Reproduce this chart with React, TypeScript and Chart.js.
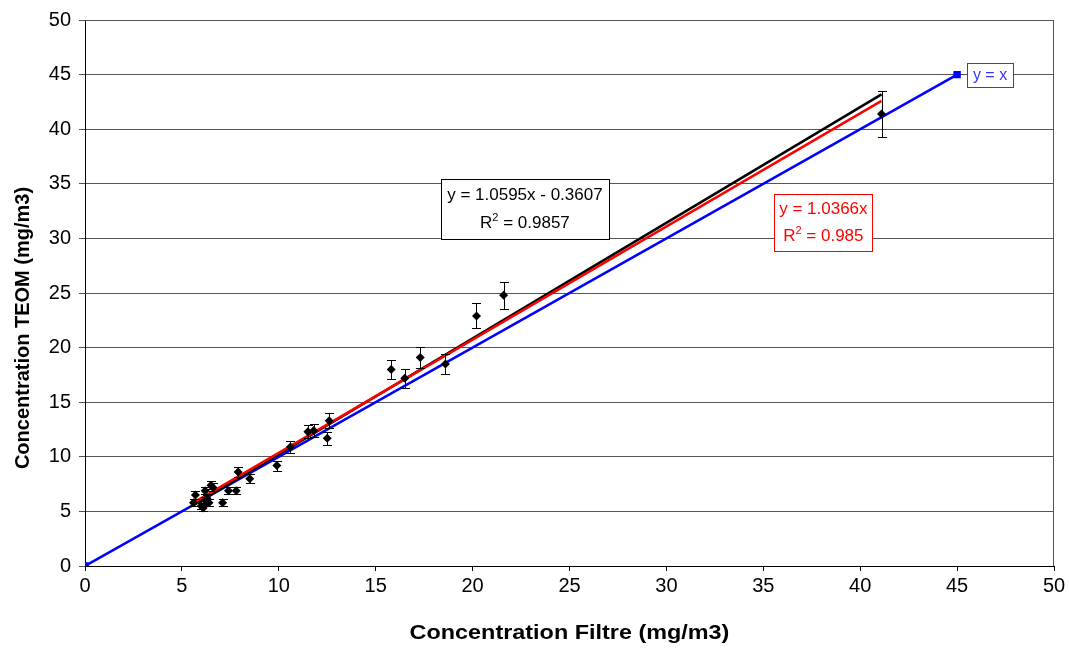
import React, { useEffect, useRef } from "react";
import { Chart, registerables } from "chart.js";

Chart.register(...registerables);

// Measured data: Concentration Filtre (x) vs Concentration TEOM (y), with error bars
const filtreX = [5.6, 5.7, 6.0, 6.1, 6.2, 6.3, 6.2, 6.4, 6.5, 6.6, 7.1, 7.4, 7.8, 7.9, 8.5, 9.9, 10.6, 11.5, 11.8, 12.5, 12.6, 15.8, 16.5, 17.3, 18.6, 20.2, 21.6, 41.1];
const teomY = [5.8, 6.5, 5.5, 5.3, 6.0, 6.2, 6.9, 5.8, 7.4, 7.2, 5.8, 6.9, 6.9, 8.6, 8.0, 9.2, 10.9, 12.3, 12.4, 11.7, 13.3, 18.0, 17.2, 19.1, 18.5, 22.9, 24.8, 41.4];
const teomErr = [0.3, 0.33, 0.28, 0.27, 0.3, 0.31, 0.35, 0.29, 0.37, 0.36, 0.29, 0.35, 0.35, 0.43, 0.4, 0.46, 0.55, 0.62, 0.62, 0.59, 0.67, 0.9, 0.86, 0.95, 0.92, 1.14, 1.24, 2.07];

// Trend lines (endpoints)
const linFitX = [5.6, 41.1];
const linFitY = [5.57, 43.19];
const zeroFitX = [5.6, 41.1];
const zeroFitY = [5.8, 42.6];
// Identity line y = x
const identityX = [0, 45];
const identityY = [0, 45];

// Axis ticks
const xTicks = [0, 5, 10, 15, 20, 25, 30, 35, 40, 45, 50];
const yTicks = [0, 5, 10, 15, 20, 25, 30, 35, 40, 45, 50];

// Labels
const linFitLabel = ["y = 1.0595x - 0.3607", "0.9857"];
const zeroFitLabel = ["y = 1.0366x", "0.985"];
const identityLabel = "y = x";
const xTitle = "Concentration Filtre (mg/m3)";
const yTitle = "Concentration TEOM (mg/m3)";

const FONT = "'Liberation Sans', Arial, sans-serif";

function toPts(xs: number[], ys: number[]) {
  return xs.map((x, i) => ({ x, y: ys[i] }));
}

function drawR2(ctx: CanvasRenderingContext2D, value: string, cx: number, cy: number, size: number, color: string) {
  const big = `${size}px ${FONT}`;
  const small = `${Math.round(size * 0.62)}px ${FONT}`;
  ctx.font = big;
  const wR = ctx.measureText("R").width;
  const rest = " = " + value;
  const wRest = ctx.measureText(rest).width;
  ctx.font = small;
  const w2 = ctx.measureText("2").width;
  const total = wR + w2 + wRest;
  let x = cx - total / 2;
  ctx.fillStyle = color;
  ctx.textAlign = "left";
  ctx.textBaseline = "middle";
  ctx.font = big;
  ctx.fillText("R", x, cy);
  x += wR;
  ctx.font = small;
  ctx.fillText("2", x, cy - size * 0.33);
  x += w2;
  ctx.font = big;
  ctx.fillText(rest, x, cy);
}

const extrasPlugin = {
  id: "extras",
  beforeDatasetsDraw(chart: any) {
    const { ctx, chartArea } = chart;
    ctx.save();
    ctx.strokeStyle = "#555";
    ctx.lineWidth = 1;
    ctx.beginPath();
    ctx.moveTo(chartArea.left, chartArea.top + 0.5);
    ctx.lineTo(chartArea.right - 0.5, chartArea.top + 0.5);
    ctx.lineTo(chartArea.right - 0.5, chartArea.bottom);
    ctx.stroke();
    ctx.restore();
  },
  afterDatasetsDraw(chart: any) {
    const { ctx, chartArea } = chart;
    const xs = chart.scales.x;
    const ys = chart.scales.y;
    ctx.save();
    // error bars
    ctx.strokeStyle = "#000";
    ctx.lineWidth = 1;
    filtreX.forEach((xv, i) => {
      const px = Math.round(xs.getPixelForValue(xv)) + 0.5;
      const pTop = Math.round(ys.getPixelForValue(teomY[i] + teomErr[i])) + 0.5;
      const pBot = Math.round(ys.getPixelForValue(teomY[i] - teomErr[i])) + 0.5;
      ctx.beginPath();
      ctx.moveTo(px, pTop);
      ctx.lineTo(px, pBot);
      ctx.moveTo(px - 4.5, pTop);
      ctx.lineTo(px + 4.5, pTop);
      ctx.moveTo(px - 4.5, pBot);
      ctx.lineTo(px + 4.5, pBot);
      ctx.stroke();
    });

    // label boxes
    const box = (cxv: number, cyv: number, w: number, h: number, color: string) => {
      const cx = xs.getPixelForValue(cxv);
      const cy = ys.getPixelForValue(cyv);
      const l = Math.round(cx - w / 2) + 0.5;
      const t = Math.round(cy - h / 2) + 0.5;
      ctx.fillStyle = "#fff";
      ctx.fillRect(l, t, w, h);
      ctx.strokeStyle = color;
      ctx.lineWidth = 1;
      ctx.strokeRect(l, t, w, h);
      return { cx, cy, t };
    };

    // linear fit label (black)
    const b1 = box(22.7, 32.7, 168, 60, "#000");
    ctx.fillStyle = "#000";
    ctx.font = `17px ${FONT}`;
    ctx.textAlign = "center";
    ctx.textBaseline = "middle";
    ctx.fillText(linFitLabel[0], b1.cx, b1.t + 16);
    drawR2(ctx, linFitLabel[1], b1.cx, b1.t + 44, 17, "#000");

    // zero-intercept fit label (red)
    const b2 = box(38.1, 31.5, 98, 57, "#ff0000");
    ctx.fillStyle = "#ff0000";
    ctx.font = `17px ${FONT}`;
    ctx.textAlign = "center";
    ctx.textBaseline = "middle";
    ctx.fillText(zeroFitLabel[0], b2.cx, b2.t + 15);
    drawR2(ctx, zeroFitLabel[1], b2.cx, b2.t + 42, 17, "#ff0000");

    // identity label (blue)
    const b3 = box(46.7, 45.0, 46, 24, "#3333ff");
    ctx.fillStyle = "#3333ff";
    ctx.font = `16px ${FONT}`;
    ctx.textAlign = "center";
    ctx.textBaseline = "middle";
    ctx.fillText(identityLabel, b3.cx, b3.t + 12);

    // y axis title
    ctx.save();
    ctx.translate(23, 328);
    ctx.rotate(-Math.PI / 2);
    ctx.fillStyle = "#000";
    ctx.font = `bold 20px ${FONT}`;
    ctx.textAlign = "center";
    ctx.textBaseline = "middle";
    ctx.fillText(yTitle, 0, 0);
    ctx.restore();

    // x axis title (slightly widened as in the original)
    ctx.save();
    ctx.translate((chartArea.left + chartArea.right) / 2, 633);
    ctx.scale(1.17, 1);
    ctx.fillStyle = "#000";
    ctx.font = `bold 20px ${FONT}`;
    ctx.textAlign = "center";
    ctx.textBaseline = "middle";
    ctx.fillText(xTitle, 0, 0);
    ctx.restore();

    ctx.restore();
  },
};

export default function App() {
  const ref = useRef<HTMLCanvasElement | null>(null);

  useEffect(() => {
    document.body.style.margin = "0";
    if (!ref.current) return;
    const chart = new Chart(ref.current, {
      type: "scatter",
      data: {
        datasets: [
          {
            label: "TEOM",
            data: toPts(filtreX, teomY),
            pointStyle: "rectRot",
            radius: 4.5,
            backgroundColor: "#000",
            borderColor: "#000",
            borderWidth: 0,
            showLine: false,
            order: 0,
          },
          {
            label: "fit0",
            data: toPts(zeroFitX, zeroFitY),
            showLine: true,
            borderColor: "#ff0000",
            borderWidth: 2.5,
            pointRadius: 0,
            order: 1,
          },
          {
            label: "fit",
            data: toPts(linFitX, linFitY),
            showLine: true,
            borderColor: "#000",
            borderWidth: 2.5,
            pointRadius: 0,
            order: 2,
          },
          {
            label: "y=x",
            data: toPts(identityX, identityY),
            showLine: true,
            borderColor: "#0000ff",
            backgroundColor: "#0000ff",
            borderWidth: 2.5,
            pointStyle: "rect",
            pointRadius: 3.5,
            order: 3,
          },
        ],
      },
      options: {
        responsive: false,
        animation: false,
        layout: { padding: { top: 19, right: 15, left: 0, bottom: 0 } },
        plugins: {
          legend: { display: false },
          tooltip: { enabled: false },
        },
        scales: {
          x: {
            type: "linear",
            min: 0,
            max: 50,
            afterBuildTicks: (s: any) => {
              s.ticks = xTicks.map((v) => ({ value: v }));
            },
            afterFit: (s: any) => {
              s.height = 82;
            },
            ticks: {
              color: "#000",
              font: { family: FONT, size: 20 },
              padding: 3,
            },
            grid: {
              drawOnChartArea: false,
              drawTicks: true,
              tickLength: 5,
              color: "#000",
            },
            border: { color: "#000", width: 1 },
          },
          y: {
            type: "linear",
            min: 0,
            max: 50,
            afterBuildTicks: (s: any) => {
              s.ticks = yTicks.map((v) => ({ value: v }));
            },
            afterFit: (s: any) => {
              s.width = 85;
            },
            ticks: {
              color: "#000",
              font: { family: FONT, size: 20 },
              padding: 8,
            },
            grid: {
              drawOnChartArea: true,
              drawTicks: true,
              tickLength: 6,
              color: "#555",
            },
            border: { color: "#000", width: 1 },
          },
        },
      },
      plugins: [extrasPlugin],
    });
    return () => chart.destroy();
  }, []);

  return (
    <div style={{ position: "absolute", left: 0, top: 0, width: 1069, height: 648, background: "#fff" }}>
      <canvas ref={ref} width={1069} height={648} />
    </div>
  );
}
